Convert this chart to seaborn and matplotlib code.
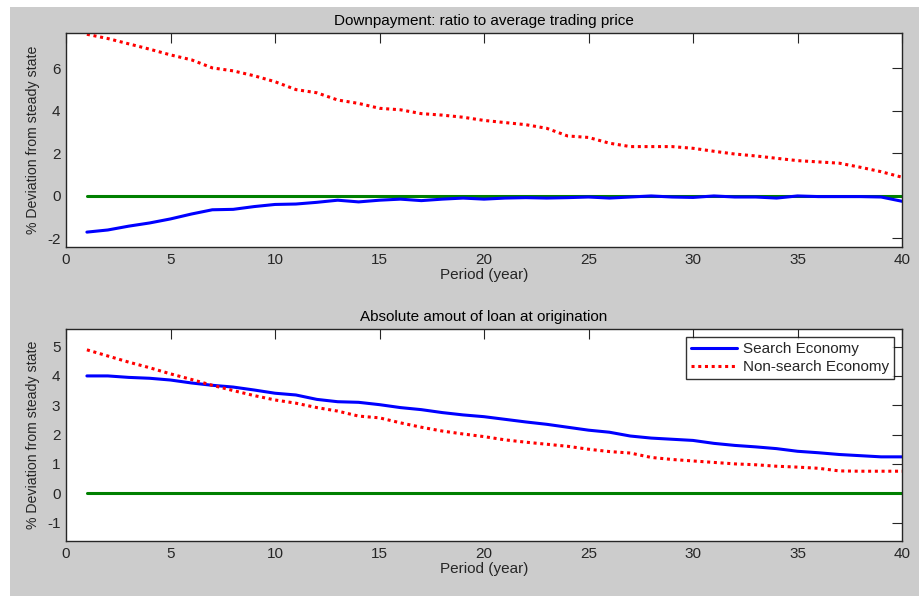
import numpy as np
import pandas as pd
import matplotlib
matplotlib.use("Agg")
import matplotlib.pyplot as plt
import seaborn as sns
from matplotlib.patches import Rectangle

sns.set_style("white")
plt.rcParams['font.family'] = ['Liberation Sans', 'DejaVu Sans']
plt.rcParams['axes.unicode_minus'] = False

periods = list(range(1, 41))

# Top panel: Downpayment ratio to average trading price
down_search = [-1.70, -1.60, -1.42, -1.27, -1.08, -0.85, -0.65, -0.63, -0.50, -0.40,
               -0.38, -0.30, -0.20, -0.28, -0.20, -0.15, -0.22, -0.15, -0.10, -0.15,
               -0.10, -0.08, -0.10, -0.08, -0.05, -0.10, -0.05, 0.00, -0.05, -0.07,
               0.00, -0.05, -0.05, -0.10, 0.00, -0.03, -0.03, -0.03, -0.05, -0.25]
down_nonsearch = [7.60, 7.40, 7.15, 6.90, 6.63, 6.40, 6.02, 5.88, 5.65, 5.37,
                  5.00, 4.85, 4.51, 4.35, 4.12, 4.05, 3.87, 3.80, 3.70, 3.55,
                  3.45, 3.35, 3.18, 2.82, 2.75, 2.48, 2.32, 2.32, 2.32, 2.24,
                  2.10, 1.97, 1.88, 1.77, 1.66, 1.60, 1.54, 1.35, 1.14, 0.88]

# Bottom panel: Absolute amount of loan at origination
loan_search = [4.00, 4.00, 3.95, 3.92, 3.86, 3.76, 3.68, 3.62, 3.52, 3.41,
               3.35, 3.20, 3.12, 3.10, 3.02, 2.92, 2.85, 2.75, 2.67, 2.61,
               2.52, 2.43, 2.35, 2.25, 2.15, 2.08, 1.95, 1.88, 1.84, 1.80,
               1.70, 1.63, 1.58, 1.52, 1.43, 1.38, 1.32, 1.28, 1.24, 1.24]
loan_nonsearch = [4.89, 4.68, 4.47, 4.28, 4.07, 3.88, 3.68, 3.50, 3.33, 3.18,
                  3.07, 2.92, 2.80, 2.63, 2.57, 2.40, 2.25, 2.12, 2.02, 1.93,
                  1.82, 1.74, 1.67, 1.60, 1.50, 1.42, 1.37, 1.22, 1.15, 1.10,
                  1.05, 1.00, 0.97, 0.92, 0.89, 0.85, 0.76, 0.75, 0.75, 0.75]
zero_line = [0.0] * 40

titles = ["Downpayment: ratio to average trading price",
          "Absolute amout of loan at origination"]
xlabel = "Period (year)"
ylabel = "% Deviation from steady state"
legend_labels = ["Search Economy", "Non-search Economy"]

fig = plt.figure(figsize=(9.19, 5.96), dpi=100)
fig.patch.set_facecolor("white")
fig.add_artist(Rectangle((10 / 919, 0), 1 - 10 / 919, 1 - 7 / 596,
                         transform=fig.transFigure, facecolor="#cccccc",
                         edgecolor="none", zorder=-10))

ax1 = fig.add_axes([66 / 919, (596 - 247) / 596, 836 / 919, 214 / 596])
ax2 = fig.add_axes([66 / 919, (596 - 541) / 596, 836 / 919, 211.7 / 596])

panels = [
    (ax1, down_search, down_nonsearch, (-2.4, 7.66), [-2, 0, 2, 4, 6]),
    (ax2, loan_search, loan_nonsearch, (-1.63, 5.59), [-1, 0, 1, 2, 3, 4, 5]),
]

for i, (ax, s, ns, ylim, yticks) in enumerate(panels):
    ax.set_facecolor("white")
    sns.lineplot(x=periods, y=zero_line, ax=ax, color="#008000", lw=2.2)
    sns.lineplot(x=periods, y=s, ax=ax, color="#0000ff", lw=2.2,
                 label=legend_labels[0])
    sns.lineplot(x=periods, y=ns, ax=ax, color="#ff0000", lw=2.2,
                 linestyle=(0, (1, 1.2)), label=legend_labels[1])
    ax.set_xlim(0, 40)
    ax.set_ylim(*ylim)
    ax.set_xticks([0, 5, 10, 15, 20, 25, 30, 35, 40])
    ax.set_yticks(yticks)
    ax.tick_params(direction="in", length=7, width=0.8, top=True, right=True,
                   labelsize=11, colors="#262626", pad=4)
    for sp in ax.spines.values():
        sp.set_visible(True)
        sp.set_color("#262626")
        sp.set_linewidth(1.0)
    ax.set_title(titles[i], fontsize=11, color="black", pad=6)
    ax.set_xlabel(xlabel, fontsize=11, color="#262626", labelpad=1)
    ax.set_ylabel(ylabel, fontsize=10.2, color="#262626", labelpad=5)
    if i == 0:
        ax.get_legend().remove()
    else:
        leg = ax.legend(loc="upper right", frameon=True, fancybox=False,
                        edgecolor="black", fontsize=11, handlelength=3.0,
                        handletextpad=0.4, borderaxespad=0.5,
                        labelspacing=0.25, borderpad=0.35)
        leg.get_frame().set_linewidth(1.0)

fig.savefig("out.png", dpi=100, facecolor=fig.get_facecolor())
